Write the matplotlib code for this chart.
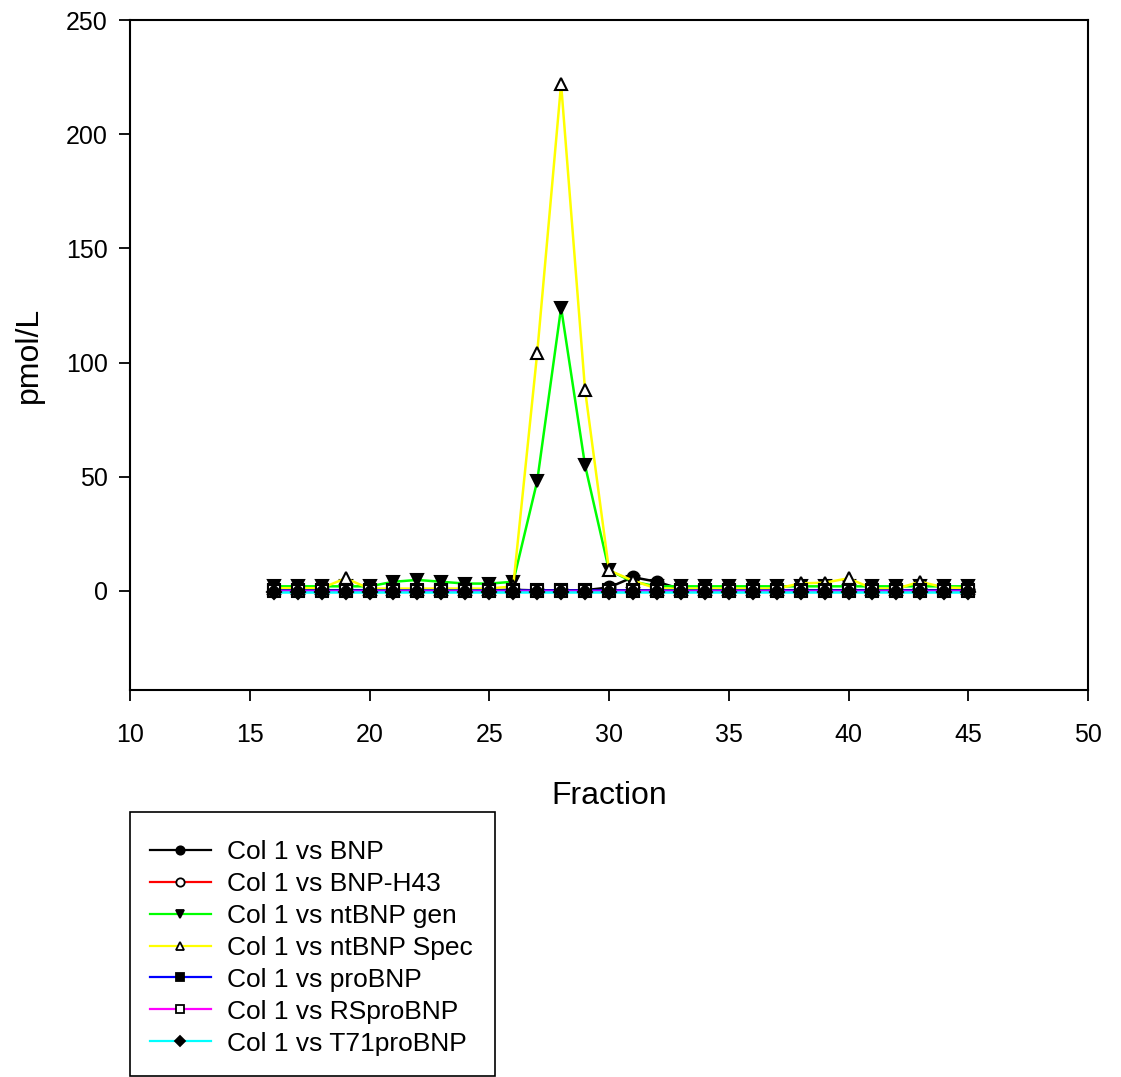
import matplotlib
matplotlib.use("Agg")
import matplotlib.pyplot as plt
from matplotlib.lines import Line2D
from matplotlib.patches import Rectangle

plt.rcParams['font.family'] = ['Liberation Sans', 'DejaVu Sans']

fractions = list(range(16, 46))

bnp = [0.3, 0.3, 0.3, 0.3, 0.3, 0.3, 0.3, 0.3, 0.3, 0.3, 0.5, 0.2, 0.2, 0.3, 1.5,
       6.0, 4.0, 0.8, 0.5, 0.4, 0.3, 0.3, 0.3, 0.3, 0.3, 0.3, 0.3, 0.3, 0.3, 0.3]
bnp_h43 = [0.2] * 30
ntbnp_gen = [2.0, 2.0, 2.0, 2.0, 2.0, 4.0, 4.8, 4.0, 3.2, 3.2, 4.0, 48.0, 124.0, 55.0, 9.0,
             4.0, 2.0, 2.0, 2.0, 2.0, 2.0, 2.0, 2.0, 2.0, 2.0, 2.0, 2.0, 2.0, 2.0, 2.0]
ntbnp_spec = [1.2, 1.2, 1.2, 5.5, 1.0, 1.0, 1.0, 1.0, 1.0, 1.0, 2.0, 104.0, 222.0, 88.0, 9.0,
              4.5, 1.0, 1.0, 1.0, 1.0, 1.0, 1.0, 3.3, 3.6, 5.5, 1.0, 1.0, 4.0, 1.5, 1.2]
probnp = [0.4] * 30
rsprobnp = [0.0] * 30
t71probnp = [-0.4] * 30

series = [
    ("Col 1 vs BNP", bnp, "black", "o", "black"),
    ("Col 1 vs BNP-H43", bnp_h43, "red", "o", "white"),
    ("Col 1 vs ntBNP gen", ntbnp_gen, "#00ff00", "v", "black"),
    ("Col 1 vs ntBNP Spec", ntbnp_spec, "yellow", "^", "white"),
    ("Col 1 vs proBNP", probnp, "blue", "s", "black"),
    ("Col 1 vs RSproBNP", rsprobnp, "magenta", "s", "white"),
    ("Col 1 vs T71proBNP", t71probnp, "cyan", "D", "black"),
]

W, H = 1121, 1077
fig = plt.figure(figsize=(W/100, H/100), dpi=100)
ax = fig.add_axes([130/W, 1-690/H, (1088-130)/W, (690-20)/H])

handles = []
for label, vals, col, mk, fc in series:
    ms = 8.5 if mk in ("v", "^") else (7 if mk == "D" else 8.5)
    ax.plot(fractions, vals, color=col, lw=1.8, marker=mk, markersize=ms,
            markerfacecolor=fc, markeredgecolor="black", markeredgewidth=1.5,
            clip_on=False)
    handles.append(Line2D([], [], color=col, lw=1.6, marker=mk,
                          markersize=6 if mk != "D" else 5.5,
                          markerfacecolor=fc, markeredgecolor="black",
                          markeredgewidth=1.3))

ax.set_xlim(10, 50)
ax.set_ylim(-43.4, 250)
ax.set_xticks([10, 15, 20, 25, 30, 35, 40, 45, 50])
ax.set_yticks([0, 50, 100, 150, 200, 250])
ax.tick_params(direction='out', length=8, width=1.3, labelsize=18, pad=8,
               top=False, right=False)
ax.tick_params(axis='x', pad=16)
for s in ax.spines.values():
    s.set_linewidth(1.5)
ax.set_xlabel("Fraction", fontsize=23, labelpad=24)
ax.set_ylabel("pmol/L", fontsize=23, labelpad=16)

# legend frame
fig.patches.append(Rectangle((130/W, 1-1076/H), (495-130)/W, (1076-812)/H,
                             transform=fig.transFigure, fill=False,
                             edgecolor="black", linewidth=1.2))

labels = [s[0] for s in series]
leg = fig.legend(handles, labels, loc="upper left",
                 bbox_to_anchor=(150/W, 1-840/H), fontsize=19,
                 frameon=False, handlelength=2.3, handletextpad=0.6,
                 labelspacing=0.3, borderpad=0, borderaxespad=0)

fig.savefig("out.png", dpi=100)
